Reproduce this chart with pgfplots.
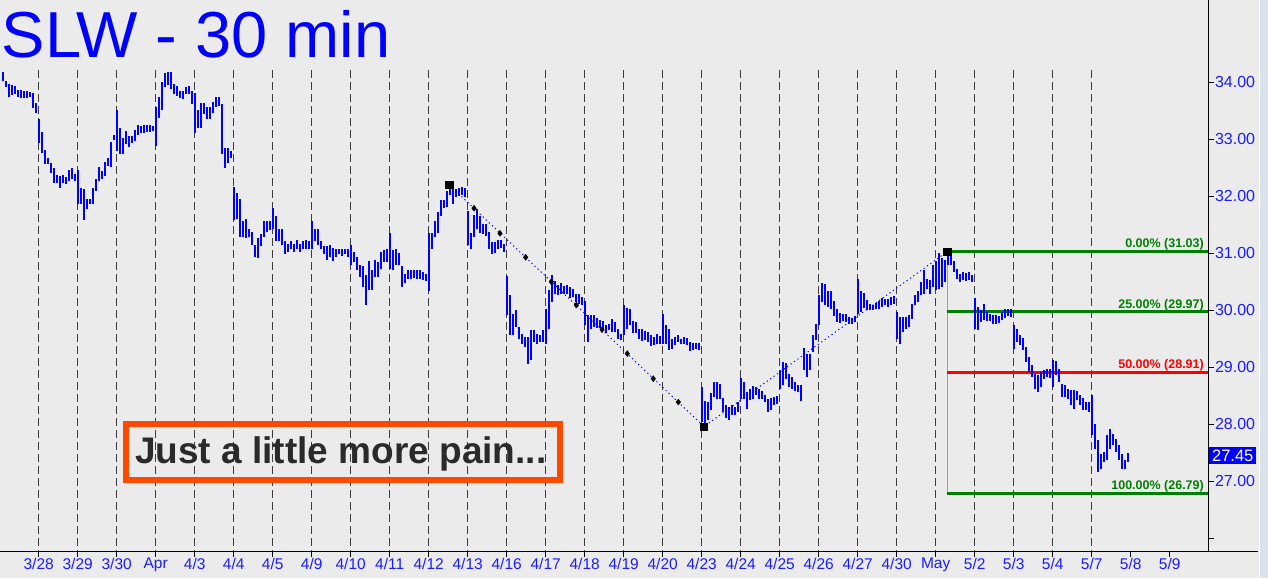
\documentclass[border=0pt]{standalone}
\usepackage{fontspec}
\setmainfont{Liberation Sans}
\usepackage{pgfplots}
\usepackage{pgfplotstable}
\pgfplotsset{compat=1.18}

\definecolor{bg}{RGB}{235,235,235}
\definecolor{strip}{RGB}{218,226,236}
\definecolor{barblue}{RGB}{0,0,255}
\definecolor{lblblue}{RGB}{28,28,255}
\definecolor{fibgreen}{RGB}{0,128,0}
\definecolor{fibred}{RGB}{255,0,0}
\definecolor{boxorange}{RGB}{255,72,0}
\definecolor{txtgray}{RGB}{42,42,42}
\definecolor{gridgray}{RGB}{60,60,60}

% 30-min bars: d = day index (0 = 3/28), k = bar of the day, lo/hi = range
\pgfplotstableread{
d k lo hi
-1 1 34.02 34.18
-1 2 33.92 34.02
-1 3 33.74 33.97
-1 4 33.78 33.95
-1 5 33.79 33.94
-1 6 33.74 33.86
-1 7 33.72 33.86
-1 8 33.72 33.85
-1 9 33.72 33.85
-1 10 33.74 33.83
-1 11 33.55 33.81
-1 12 33.46 33.64
0 0 32.93 33.35
0 1 32.76 33.12
0 2 32.56 32.81
0 3 32.56 32.67
0 4 32.40 32.58
0 5 32.24 32.49
0 6 32.23 32.37
0 7 32.14 32.35
0 8 32.23 32.37
0 9 32.21 32.33
0 10 32.26 32.47
0 11 32.31 32.49
0 12 32.26 32.39
1 0 31.86 32.47
1 1 31.87 32.14
1 2 31.59 32.12
1 3 31.77 31.96
1 4 31.86 31.96
1 5 31.86 32.14
1 6 32.09 32.31
1 7 32.26 32.51
1 8 32.31 32.44
1 9 32.35 32.60
1 10 32.53 32.67
1 11 32.51 32.95
1 12 32.98 33.08
2 0 32.79 33.51
2 1 32.75 33.19
2 2 32.75 33.02
2 3 32.91 33.14
2 4 32.86 33.05
2 5 32.93 33.05
2 6 32.97 33.16
2 7 33.07 33.25
2 8 33.11 33.23
2 9 33.11 33.25
2 10 33.12 33.25
2 11 33.12 33.25
2 12 33.14 33.23
3 0 32.88 33.56
3 1 33.37 33.74
3 2 33.51 34.00
3 3 33.92 34.16
3 4 33.95 34.18
3 5 33.88 34.18
3 6 33.79 33.97
3 7 33.76 33.93
3 8 33.72 33.85
3 9 33.71 33.85
3 10 33.79 33.92
3 11 33.79 33.93
3 12 33.62 33.85
4 0 33.11 33.81
4 1 33.19 33.51
4 2 33.19 33.64
4 3 33.44 33.64
4 4 33.35 33.56
4 5 33.35 33.56
4 6 33.46 33.65
4 7 33.56 33.74
4 8 33.58 33.74
4 9 32.74 33.62
4 10 32.49 32.84
4 11 32.58 32.84
4 12 32.67 32.79
5 0 31.59 32.17
5 1 31.61 32.05
5 2 31.29 31.96
5 3 31.28 31.57
5 4 31.26 31.61
5 5 31.28 31.43
5 6 31.15 31.38
5 7 30.94 31.15
5 8 30.92 31.26
5 9 31.12 31.33
5 10 31.29 31.57
5 11 31.38 31.57
5 12 31.40 31.57
6 0 31.42 31.79
6 1 31.21 31.65
6 2 31.21 31.43
6 3 31.14 31.43
6 4 30.98 31.21
6 5 31.03 31.17
6 6 31.07 31.21
6 7 31.03 31.17
6 8 31.07 31.24
6 9 31.03 31.17
6 10 31.07 31.21
6 11 31.07 31.24
6 12 31.08 31.22
7 0 31.08 31.57
7 1 31.21 31.43
7 2 31.15 31.43
7 3 31.08 31.22
7 4 30.99 31.12
7 5 30.89 31.12
7 6 30.94 31.15
7 7 30.87 31.10
7 8 30.94 31.08
7 9 30.98 31.08
7 10 30.96 31.08
7 11 30.98 31.07
7 12 30.94 31.08
8 0 30.80 31.15
8 1 30.85 31.03
8 2 30.71 30.94
8 3 30.59 30.80
8 4 30.41 30.77
8 5 30.10 30.62
8 6 30.36 30.87
8 7 30.36 30.71
8 8 30.59 30.89
8 9 30.59 30.85
8 10 30.73 31.03
8 11 30.85 31.05
8 12 30.85 31.08
9 0 30.73 31.35
9 1 30.71 31.05
9 2 30.80 31.07
9 3 30.80 31.00
9 4 30.40 30.78
9 5 30.47 30.64
9 6 30.55 30.71
9 7 30.55 30.71
9 8 30.57 30.71
9 9 30.55 30.70
9 10 30.55 30.70
9 11 30.54 30.68
9 12 30.52 30.64
10 0 30.34 31.36
10 1 31.07 31.36
10 2 31.28 31.56
10 3 31.36 31.73
10 4 31.65 31.93
10 5 31.79 31.94
10 6 31.82 32.09
10 7 32.03 32.19
10 8 31.87 32.12
10 9 31.98 32.12
10 10 32.00 32.14
10 11 32.03 32.17
10 12 31.98 32.14
11 0 31.15 31.75
11 1 31.08 31.36
11 2 31.29 31.68
11 3 31.43 31.77
11 4 31.35 31.65
11 5 31.33 31.51
11 6 31.31 31.51
11 7 31.08 31.38
11 8 30.98 31.19
11 9 31.00 31.19
11 10 31.07 31.24
11 11 31.10 31.24
11 12 31.03 31.17
12 0 29.92 30.61
12 1 29.57 30.27
12 2 29.57 29.94
12 3 29.71 30.01
12 4 29.50 29.71
12 5 29.41 29.59
12 6 29.36 29.53
12 7 29.06 29.53
12 8 29.13 29.66
12 9 29.45 29.66
12 10 29.41 29.59
12 11 29.45 29.57
12 12 29.45 29.66
13 0 29.41 30.03
13 1 29.67 30.36
13 2 30.15 30.62
13 3 30.29 30.52
13 4 30.27 30.45
13 5 30.29 30.47
13 6 30.29 30.43
13 7 30.29 30.45
13 8 30.22 30.40
13 9 30.24 30.38
13 10 30.15 30.29
13 11 30.11 30.29
13 12 30.10 30.24
14 0 29.74 30.17
14 1 29.45 29.92
14 2 29.67 29.92
14 3 29.71 29.92
14 4 29.69 29.87
14 5 29.69 29.83
14 6 29.64 29.81
14 7 29.60 29.74
14 8 29.66 29.76
14 9 29.62 29.85
14 10 29.62 29.80
14 11 29.50 29.67
14 12 29.48 29.59
15 0 29.57 30.10
15 1 29.67 30.04
15 2 29.74 30.03
15 3 29.60 29.81
15 4 29.60 29.80
15 5 29.50 29.67
15 6 29.46 29.67
15 7 29.48 29.64
15 8 29.45 29.62
15 9 29.37 29.57
15 10 29.39 29.53
15 11 29.41 29.59
15 12 29.41 29.55
16 0 29.41 29.94
16 1 29.41 29.74
16 2 29.30 29.67
16 3 29.32 29.50
16 4 29.39 29.53
16 5 29.45 29.57
16 6 29.41 29.50
16 7 29.41 29.53
16 8 29.39 29.52
16 9 29.29 29.45
16 10 29.30 29.43
16 11 29.32 29.43
16 12 29.30 29.43
17 0 28.04 28.65
17 1 27.96 28.41
17 2 28.07 28.39
17 3 28.25 28.55
17 4 28.48 28.74
17 5 28.44 28.74
17 6 28.44 28.71
17 7 28.21 28.46
17 8 28.11 28.34
17 9 28.07 28.30
17 10 28.16 28.34
17 11 28.16 28.30
17 12 28.21 28.39
18 0 28.44 28.81
18 1 28.44 28.74
18 2 28.27 28.57
18 3 28.42 28.62
18 4 28.44 28.67
18 5 28.51 28.65
18 6 28.44 28.62
18 7 28.44 28.58
18 8 28.39 28.51
18 9 28.21 28.44
18 10 28.25 28.46
18 11 28.34 28.48
18 12 28.35 28.50
19 0 28.62 28.95
19 1 28.69 29.09
19 2 28.79 29.07
19 3 28.65 28.88
19 4 28.62 28.83
19 5 28.58 28.74
19 6 28.57 28.69
19 7 28.41 28.69
19 8 28.95 29.34
19 9 28.83 29.23
19 10 28.95 29.23
19 11 29.27 29.57
19 12 29.48 29.76
20 0 29.74 30.27
20 1 30.15 30.48
20 2 30.10 30.47
20 3 30.06 30.33
20 4 30.03 30.33
20 5 29.90 30.17
20 6 29.80 30.03
20 7 29.78 29.96
20 8 29.82 29.94
20 9 29.80 29.94
20 10 29.76 29.89
20 11 29.76 29.87
20 12 29.80 29.90
21 0 29.94 30.55
21 1 29.97 30.34
21 2 30.04 30.31
21 3 30.01 30.18
21 4 30.01 30.11
21 5 30.01 30.10
21 6 30.03 30.13
21 7 30.03 30.17
21 8 30.06 30.22
21 9 30.10 30.20
21 10 30.06 30.20
21 11 30.10 30.24
21 12 30.11 30.25
22 0 29.50 29.97
22 1 29.41 29.89
22 2 29.62 29.89
22 3 29.67 29.89
22 4 29.71 29.92
22 5 29.85 30.11
22 6 30.10 30.27
22 7 30.15 30.34
22 8 30.27 30.50
22 9 30.29 30.71
22 10 30.38 30.55
22 11 30.29 30.54
22 12 30.41 30.80
23 0 30.36 30.87
23 1 30.38 31.00
23 2 30.41 30.91
23 3 30.50 30.89
23 4 30.80 31.03
23 5 30.80 30.98
23 6 30.68 30.87
23 7 30.55 30.73
23 8 30.50 30.64
23 9 30.54 30.68
23 10 30.52 30.66
23 11 30.54 30.68
23 12 30.50 30.62
24 0 29.67 30.22
24 1 29.66 30.06
24 2 29.80 30.01
24 3 29.83 30.11
24 4 29.81 29.97
24 5 29.81 29.94
24 6 29.76 29.92
24 7 29.76 29.92
24 8 29.78 29.90
24 9 29.83 29.97
24 10 29.87 30.03
24 11 29.90 30.03
24 12 29.89 30.03
25 0 29.32 29.74
25 1 29.45 29.67
25 2 29.39 29.57
25 3 29.30 29.52
25 4 29.09 29.36
25 5 28.92 29.18
25 6 28.83 29.04
25 7 28.62 28.88
25 8 28.57 28.86
25 9 28.65 28.92
25 10 28.79 28.95
25 11 28.83 28.97
25 12 28.81 28.97
26 0 28.65 29.13
26 1 28.86 29.11
26 2 28.74 28.97
26 3 28.48 28.71
26 4 28.48 28.69
26 5 28.44 28.62
26 6 28.34 28.60
26 7 28.27 28.60
26 8 28.42 28.58
26 9 28.34 28.51
26 10 28.25 28.46
26 11 28.25 28.39
26 12 28.21 28.39
27 0 27.81 28.51
27 1 27.56 28.00
27 2 27.16 27.72
27 3 27.21 27.47
27 4 27.33 27.51
27 5 27.38 27.81
27 6 27.56 27.91
27 7 27.63 27.83
27 8 27.51 27.74
27 9 27.37 27.63
27 10 27.21 27.47
27 11 27.21 27.38
27 12 27.33 27.49
}\bars

\begin{document}
\begin{tikzpicture}
\fill[bg] (0pt,0pt) rectangle (1268pt,578pt);
\fill[strip] (1259pt,0pt) rectangle (1268pt,578pt);
\draw[white, line width=1pt] (1259.5pt,0pt) -- (1259.5pt,578pt);

\begin{axis}[
  at={(0pt,26.5pt)}, anchor=south west,
  scale only axis, width=1208.3pt, height=551.5pt,
  xmin=-0.992, xmax=29.99, ymin=25.768, ymax=35.444,
  axis x line=bottom, axis y line=right,
  axis line style={-, black, line width=1.2pt},
  clip mode=individual,
  xtick={0,...,29},
  xticklabels={3/28,3/29,3/30,Apr,4/3,4/4,4/5,4/9,4/10,4/11,4/12,4/13,4/16,4/17,4/18,4/19,4/20,4/23,4/24,4/25,4/26,4/27,4/30,May,5/2,5/3,5/4,5/7,5/8,5/9},
  ytick={26,...,34},
  yticklabels={{},27.00,28.00,29.00,30.00,31.00,32.00,33.00,34.00},
  tick align=outside,
  major tick length=5.5pt,
  tick style={black, line width=1pt},
  xticklabel style={font=\fontsize{15.5}{16}\selectfont, text=lblblue, inner sep=1pt},
  yticklabel style={font=\fontsize{16}{17}\selectfont, text=lblblue, anchor=west, inner sep=1pt},
]

% day separators
\pgfplotsinvokeforeach{0,...,27}{
  \draw[gridgray, line width=1.2pt, dash pattern=on 8pt off 4pt]
    (axis cs:#1,34.22) -- (axis cs:#1,25.768);
}

% retracement levels
\addplot[gray!75, line width=1pt] coordinates {(23.297,31.03) (23.297,26.79)};
\addplot[fibgreen, line width=3pt] coordinates {(23.297,31.03) (29.99,31.03)};
\addplot[fibgreen, line width=3pt] coordinates {(23.297,29.97) (29.99,29.97)};
\addplot[fibred, line width=3pt] coordinates {(23.297,28.91) (29.99,28.91)};
\addplot[fibgreen, line width=3pt] coordinates {(23.297,26.79) (29.99,26.79)};

% price bars
\addplot[draw=none, mark=none,
  error bars/.cd, y dir=both, y explicit, error mark=none,
  error bar style={draw=barblue, line width=2.2pt}]
  table[x expr=\thisrow{d}+\thisrow{k}/13,
        y expr=(\thisrow{lo}+\thisrow{hi})/2,
        y error expr=(\thisrow{hi}-\thisrow{lo})/2] {\bars};

% swing lines
\addplot[barblue, line width=1pt, dash pattern=on 1.2pt off 3pt]
  coordinates {(10.528,32.20) (17.059,27.96) (23.297,31.03)};
\addplot[only marks, mark=diamond*, mark size=3pt, black] coordinates {
  (11.162,31.79) (11.828,31.35) (12.487,30.93) (13.144,30.50) (13.785,30.09)
  (14.444,29.66) (15.092,29.24) (15.759,28.80) (16.400,28.39)};
\addplot[only marks, mark=square*, mark size=3.7pt, black]
  coordinates {(10.528,32.20) (17.059,27.96) (23.297,31.03)};

% level labels
\node[anchor=base east, inner sep=0pt, text=fibgreen, font=\bfseries\fontsize{12.5}{13}\selectfont]
  at (axis cs:29.88,31.03) [yshift=3.6pt] {0.00\% (31.03)};
\node[anchor=base east, inner sep=0pt, text=fibgreen, font=\bfseries\fontsize{12.5}{13}\selectfont]
  at (axis cs:29.88,29.97) [yshift=3.6pt] {25.00\% (29.97)};
\node[anchor=base east, inner sep=0pt, text=fibred, font=\bfseries\fontsize{12.5}{13}\selectfont]
  at (axis cs:29.88,28.91) [yshift=3.6pt] {50.00\% (28.91)};
\node[anchor=base east, inner sep=0pt, text=fibgreen, font=\bfseries\fontsize{12.5}{13}\selectfont]
  at (axis cs:29.88,26.79) [yshift=3.6pt] {100.00\% (26.79)};

% last price tag
\node[anchor=west, fill=barblue, text=white, inner xsep=3pt, inner ysep=0pt,
  minimum height=16.5pt, font=\fontsize{16.5}{17}\selectfont]
  at (axis cs:29.99,27.45) [xshift=0.6pt] {27.45};
\end{axis}

\draw[black, line width=1.2pt] (1208pt,26.5pt) -- (1258pt,26.5pt);

\node[anchor=base west, inner sep=0pt, text=barblue, font=\fontsize{65}{70}\selectfont]
  at (1.5pt,520pt) {SLW - 30 min};

\draw[boxorange, line width=6pt] (125.7pt,154pt) rectangle (559.7pt,98pt);
\node[anchor=base west, inner sep=0pt, text=txtgray, font=\bfseries\fontsize{37}{40}\selectfont]
  at (135pt,114.7pt) {Just a little more pain...};

\pgfresetboundingbox
\path[use as bounding box] (0pt,0pt) rectangle (1268pt,578pt);
\end{tikzpicture}
\end{document}
